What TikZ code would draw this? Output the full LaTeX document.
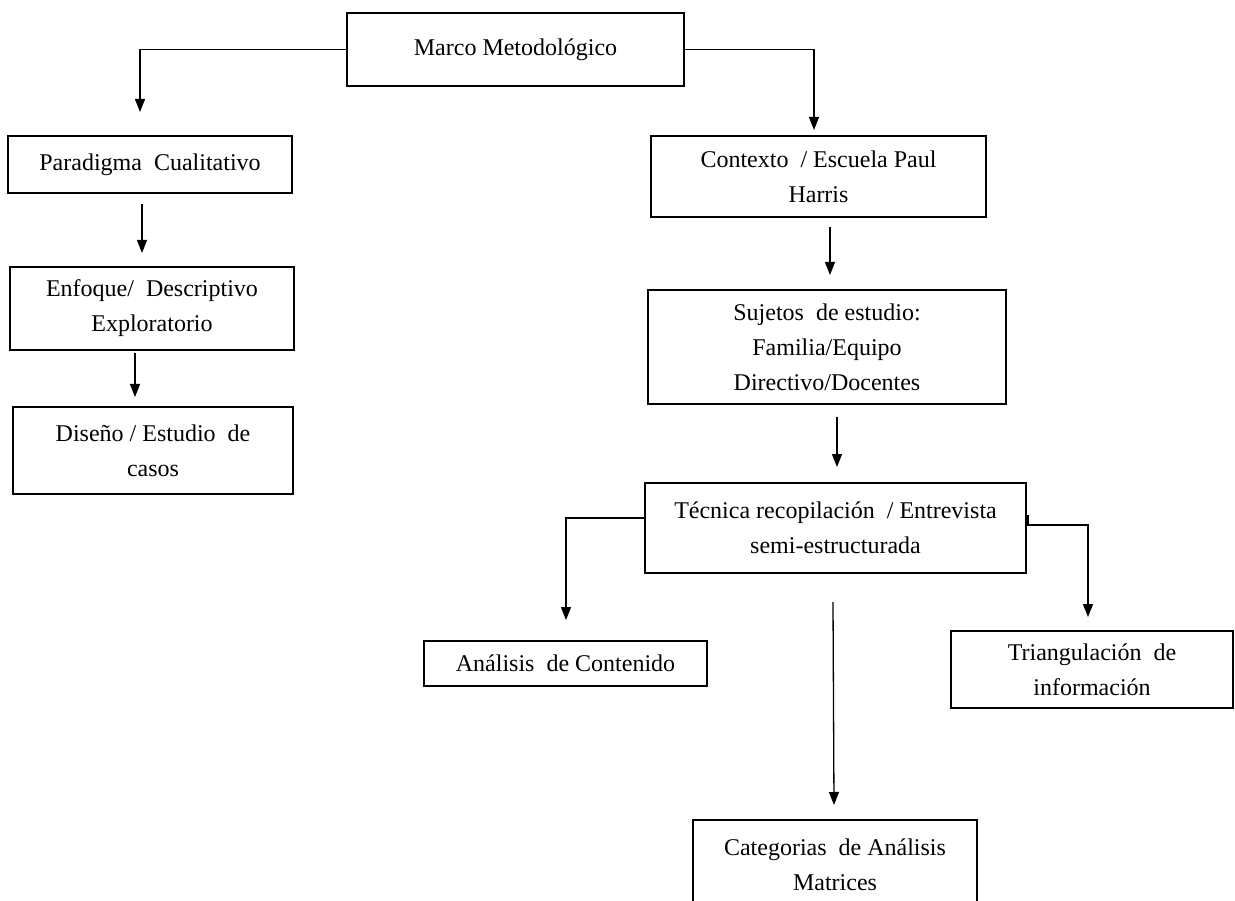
\documentclass[tikz,border=0pt]{standalone}
\usepackage{fontspec}
\setmainfont{Liberation Serif}
\usetikzlibrary{arrows.meta}
\newcommand{\dsp}{\hspace{0.5em}}
\begin{document}
\begin{tikzpicture}[x=1pt,y=-1pt,
  box/.style={draw=black,line width=1.2pt,inner sep=0pt,align=center,
    font=\fontsize{24}{35}\selectfont},
  arr/.style={draw=black,line width=1.3pt,-{Triangle[length=13pt,width=10pt]}}]
\fill[white] (0,0) rectangle (1235,901);
\useasboundingbox (0,0) rectangle (1235,901);

\node[box,minimum width=337pt,minimum height=73pt] (marco) at (515.5,49.5) {Marco Metodológico};
\node[box,minimum width=284pt,minimum height=57pt] (parad) at (150,164.5) {Paradigma\dsp Cualitativo};
\node[box,minimum width=284pt,minimum height=83pt] (enfoque) at (152,308.5) {Enfoque/\dsp Descriptivo\\Exploratorio};
\node[box,minimum width=280pt,minimum height=87pt] (diseno) at (153,450.5) {Diseño / Estudio\dsp de\\casos};
\node[box,minimum width=335pt,minimum height=81pt] (contexto) at (818.5,176.5) {Contexto\dsp / Escuela Paul\\Harris};
\node[box,minimum width=358pt,minimum height=114pt] (sujetos) at (827,347) {Sujetos\dsp de estudio:\\Familia/Equipo\\Directivo/Docentes};
\node[box,minimum width=381pt,minimum height=90pt] (tecnica) at (835.5,528) {Técnica recopilación\dsp / Entrevista\\semi-estructurada};
\node[box,minimum width=283pt,minimum height=45pt] (analisis) at (565.5,663.5) {Análisis\dsp de Contenido};
\node[box,minimum width=282pt,minimum height=77pt] (triang) at (1092,669.5) {Triangulación\dsp de\\información};
\node[box,minimum width=284pt,minimum height=89pt] (categ) at (835,864.5) {Categorias\dsp de Análisis\\Matrices};

% free ends
\coordinate (m1) at (140,112);
\coordinate (m2) at (814,130);
\coordinate (p1) at (142,204);
\coordinate (p2) at (142,253);
\coordinate (e1) at (135,353);
\coordinate (e2) at (135,397);
\coordinate (c1) at (830,227);
\coordinate (c2) at (830,275);
\coordinate (s1) at (837,417);
\coordinate (s2) at (837,467);
\coordinate (t1) at (566,620);
\coordinate (r0) at (1028,515);
\coordinate (r1) at (1088,617);
\coordinate (k1) at (833,602);
\coordinate (k2) at (834,805);

\draw[arr] (marco.west) -| (m1);
\draw[arr] (marco.east) -| (m2);
\draw[arr] (p1) -- (p2);
\draw[arr] (e1) -- (e2);
\draw[arr] (c1) -- (c2);
\draw[arr] (s1) -- (s2);
\draw[arr] ([yshift=10pt]tecnica.west) -| (t1);
\draw[arr] (r0) -- ++(0,10) -| (r1);
\draw[arr] (k1) -- (k2);
\end{tikzpicture}
\end{document}
